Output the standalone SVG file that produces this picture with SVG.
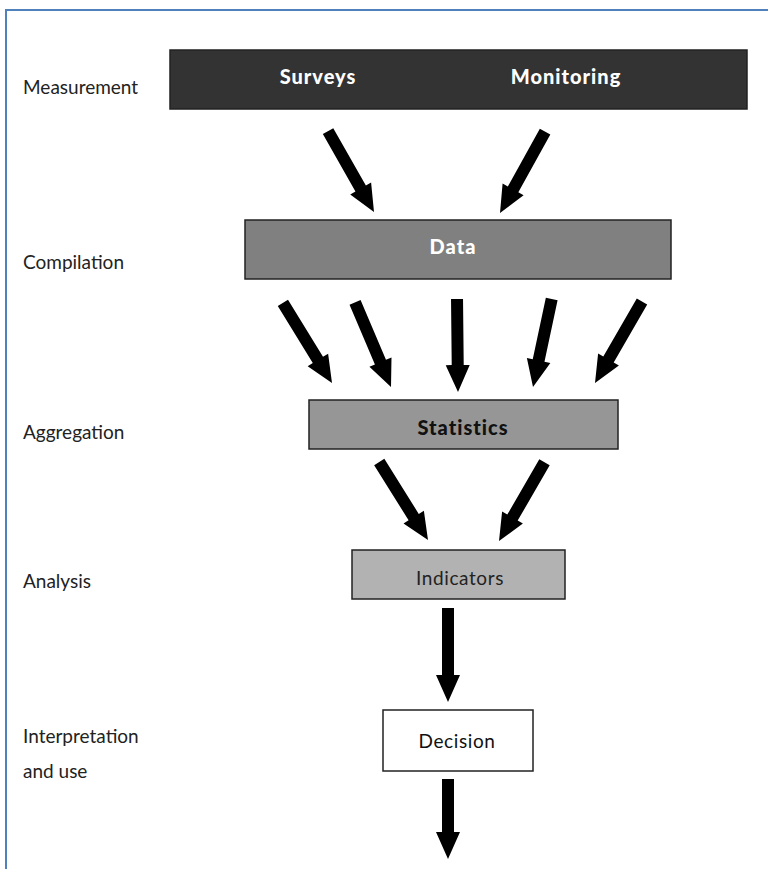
<svg xmlns="http://www.w3.org/2000/svg" width="768" height="869" viewBox="0 0 768 869">
<style>
.lbl{font-family:Lato,"Open Sans","DejaVu Sans",sans-serif;font-size:19px;fill:#222}
.bt{font-family:Lato,"Open Sans","DejaVu Sans",sans-serif;font-size:19px;text-anchor:middle;letter-spacing:0.6px}
.bb{font-size:20px;font-weight:900;letter-spacing:1px}
.box{stroke:#222;stroke-width:1.5}
</style>
<rect width="768" height="869" fill="#fff"/>
<path d="M6,869 L6,10 L768,10" fill="none" stroke="#4f81bd" stroke-width="2"/>
<g id="labels">
<text class="lbl" x="23" y="94">Measurement</text>
<text class="lbl" x="23" y="269">Compilation</text>
<text class="lbl" x="23" y="439">Aggregation</text>
<text class="lbl" x="23" y="588">Analysis</text>
<text class="lbl" x="23" y="743">Interpretation</text>
<text class="lbl" x="23" y="778">and use</text>
</g>
<g id="measurement">
<rect class="box" x="170" y="50" width="577" height="59" fill="#333"/>
<text class="bt bb" x="318" y="84" fill="#fff">Surveys</text>
<text class="bt bb" x="566" y="84" fill="#fff">Monitoring</text>
</g>
<g id="data">
<rect class="box" x="245" y="220" width="426" height="59" fill="#808080"/>
<text class="bt bb" x="453" y="254" fill="#fff">Data</text>
</g>
<g id="statistics">
<rect class="box" x="309" y="400" width="309" height="49" fill="#969696"/>
<text class="bt bb" x="463" y="435" fill="#111">Statistics</text>
</g>
<g id="indicators">
<rect class="box" x="352" y="550" width="213" height="49" fill="#b2b2b2"/>
<text class="bt" x="460" y="585" fill="#222">Indicators</text>
</g>
<g id="decision">
<rect class="box" x="383" y="710" width="150" height="61" fill="#fff"/>
<text class="bt" x="457" y="748" fill="#111">Decision</text>
</g>
<g id="connectors">
<g transform="translate(374,212) rotate(-29.6)"><path d="M-6,-93 L-6,-27 L-12,-27 L0,0 L12,-27 L6,-27 L6,-93 Z"/></g>
<g transform="translate(500,213) rotate(29)"><path d="M-6,-93 L-6,-27 L-12,-27 L0,0 L12,-27 L6,-27 L6,-93 Z"/></g>
<g transform="translate(332,383) rotate(-31.5)"><path d="M-6,-94 L-6,-27 L-12,-27 L0,0 L12,-27 L6,-27 L6,-94 Z"/></g>
<g transform="translate(391,387) rotate(-23)"><path d="M-6,-92 L-6,-27 L-12,-27 L0,0 L12,-27 L6,-27 L6,-92 Z"/></g>
<g transform="translate(458,392) rotate(-0.6)"><path d="M-6,-93 L-6,-27 L-12,-27 L0,0 L12,-27 L6,-27 L6,-93 Z"/></g>
<g transform="translate(533,387) rotate(12)"><path d="M-6,-90 L-6,-27 L-12,-27 L0,0 L12,-27 L6,-27 L6,-90 Z"/></g>
<g transform="translate(595,383) rotate(30)"><path d="M-6,-94 L-6,-27 L-12,-27 L0,0 L12,-27 L6,-27 L6,-94 Z"/></g>
<g transform="translate(428,540) rotate(-32)"><path d="M-6,-92 L-6,-27 L-12,-27 L0,0 L12,-27 L6,-27 L6,-92 Z"/></g>
<g transform="translate(499,541) rotate(30)"><path d="M-6,-91 L-6,-27 L-12,-27 L0,0 L12,-27 L6,-27 L6,-91 Z"/></g>
<g transform="translate(448,702)"><path d="M-6,-94 L-6,-27 L-12,-27 L0,0 L12,-27 L6,-27 L6,-94 Z"/></g>
<g transform="translate(448,859)"><path d="M-6,-80 L-6,-27 L-12,-27 L0,0 L12,-27 L6,-27 L6,-80 Z"/></g>
</g>
</svg>
